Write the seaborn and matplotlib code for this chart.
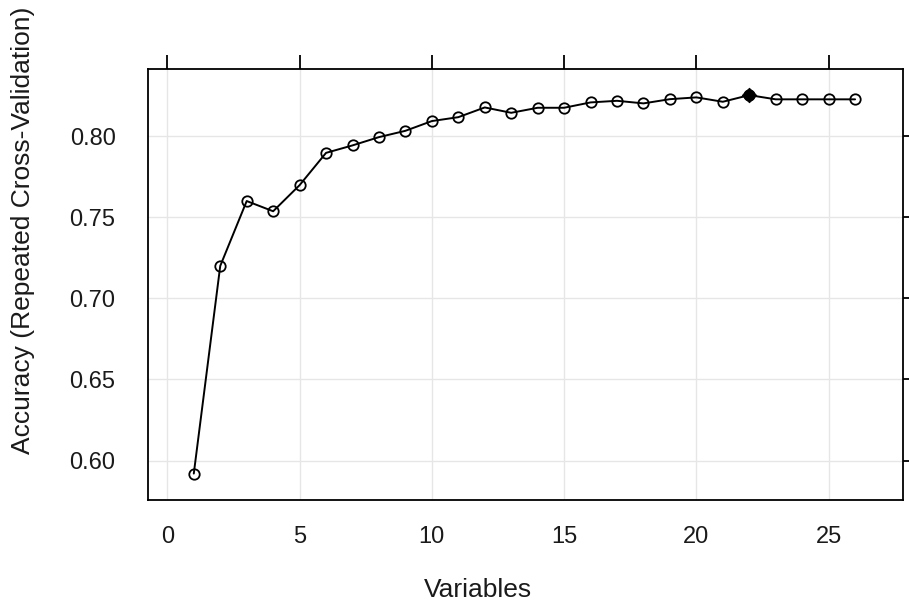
import matplotlib
matplotlib.use("Agg")
import matplotlib.pyplot as plt
import seaborn as sns
import pandas as pd
from matplotlib import font_manager

variables = list(range(1, 27))
accuracy = [0.592, 0.720, 0.760, 0.7537, 0.7698, 0.7897, 0.7943, 0.7994, 0.8033,
            0.8093, 0.8117, 0.8177, 0.8144, 0.8175, 0.8175, 0.8208, 0.8218, 0.8202,
            0.8228, 0.8239, 0.8212, 0.8253, 0.8227, 0.8227, 0.8227, 0.8227]
best_index = 21
x_ticks = [0, 5, 10, 15, 20, 25]
y_ticks = [0.60, 0.65, 0.70, 0.75, 0.80]
x_label = "Variables"
y_label = "Accuracy (Repeated Cross-Validation)"

sns.set_theme(style="white")
avail = {f.name for f in font_manager.fontManager.ttflist}
main_font = "Liberation Sans" if "Liberation Sans" in avail else "DejaVu Sans"
plt.rcParams['font.family'] = [main_font, 'DejaVu Sans']

df = pd.DataFrame({"Variables": variables, "Accuracy": accuracy})

fig = plt.figure(figsize=(9.09, 6.11), dpi=100)
ax = fig.add_axes([147.5 / 909, (611 - 500) / 611, (902.7 - 147.5) / 909, (500 - 69) / 611])

ax.grid(True, color="#e6e6e6", linewidth=1.0)
ax.set_axisbelow(True)

sns.lineplot(data=df, x="Variables", y="Accuracy", ax=ax, color="black", linewidth=1.4,
             marker="o", markersize=7.5, markerfacecolor="none", markeredgecolor="black",
             markeredgewidth=1.3, zorder=3)
best = df.iloc[[best_index]]
sns.scatterplot(data=best, x="Variables", y="Accuracy", ax=ax, color="black", s=55,
                marker="D", edgecolor="black", zorder=4)

ax.set_xlim(-0.75, 27.8)
ax.set_ylim(0.5757, 0.8414)
ax.set_xticks(x_ticks)
ax.set_yticks(y_ticks)
ax.set_yticklabels([f"{v:.2f}" for v in y_ticks], fontsize=17, color="#1a1a1a")
ax.set_xticklabels([str(v) for v in x_ticks], fontsize=17, color="#1a1a1a")
ax.tick_params(axis="both", which="both", direction="out", length=10, width=1.3, color="black",
               top=True, right=True, labeltop=False, labelright=False)
ax.tick_params(axis="x", pad=9)
ax.tick_params(axis="y", pad=13)

for s in ax.spines.values():
    s.set_visible(True)
    s.set_color("black")
    s.set_linewidth(1.3)

ax.set_xlabel(x_label, fontsize=19, color="#1a1a1a")
ax.set_ylabel(y_label, fontsize=19, color="#1a1a1a")
ax.xaxis.set_label_coords((478 - 147.5) / 755.2, -(590 - 500) / 431, transform=ax.transAxes)
ax.xaxis.label.set_va("center")
ax.yaxis.set_label_coords(-(147.5 - 23) / 755.2, (500 - 230) / 431, transform=ax.transAxes)
ax.yaxis.label.set_va("center")

fig.savefig("out.png", dpi=100)
